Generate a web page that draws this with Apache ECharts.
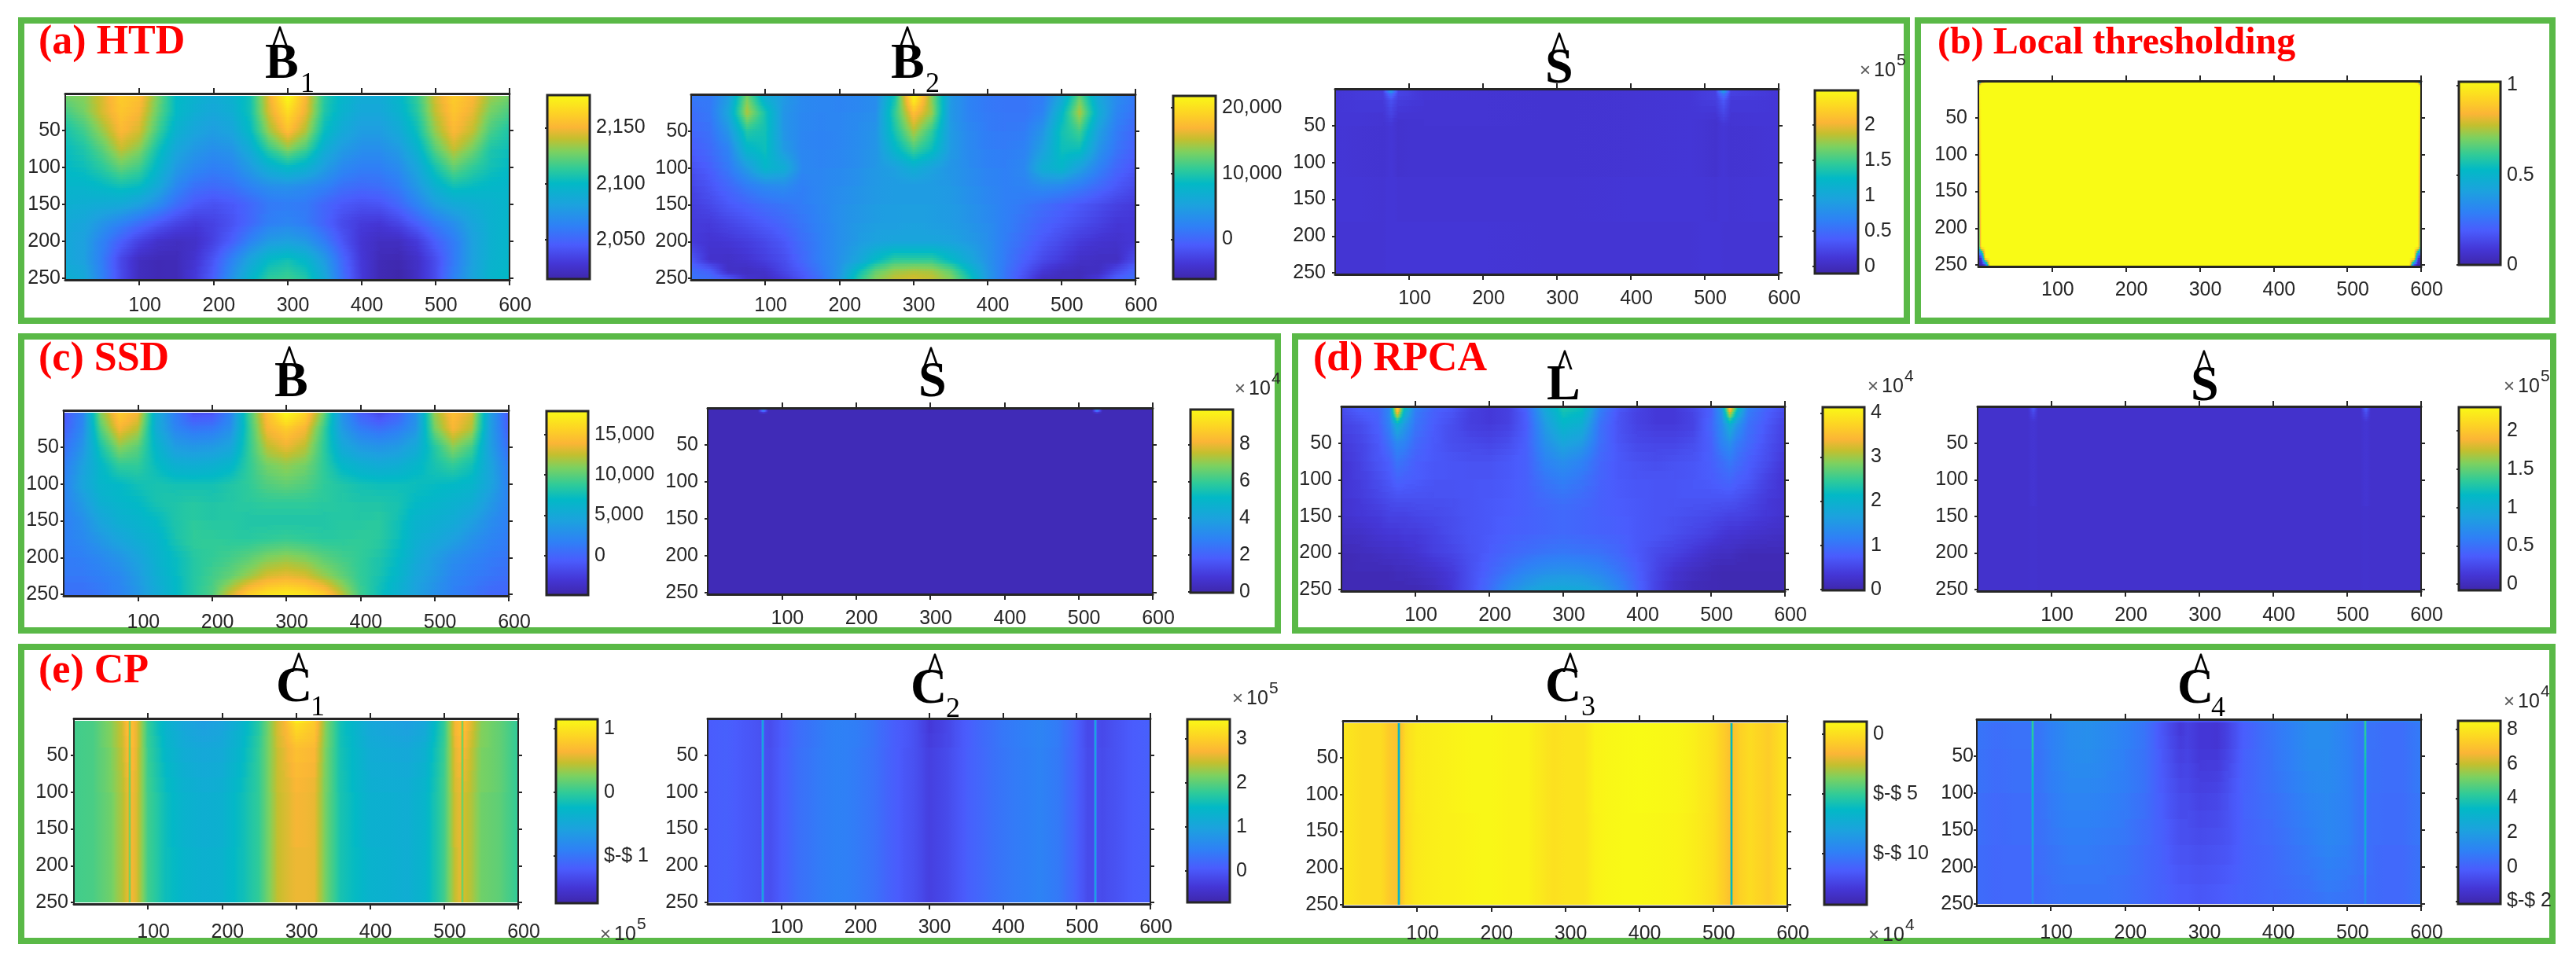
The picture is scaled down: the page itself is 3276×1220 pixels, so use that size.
<!DOCTYPE html>
<html>
<head>
<meta charset="utf-8">
<title>Background and target components</title>
<script src="https://cdn.jsdelivr.net/npm/echarts@6/dist/echarts.min.js"></script>
<style>
  html, body { margin: 0; background: #fff; }
  #main { width: 3276px; height: 1220px; }
</style>
</head>
<body>
<div id="main"></div>
<script>
// tick values shared by all the image panels
const xTicks = [100, 200, 300, 400, 500, 600];
const yTicks = [50, 100, 150, 200, 250];

// node positions of the level tables, in image pixels
const xEvery25 = [0,25,50,75,100,125,150,175,200,225,250,275,300,325,350,375,400,425,450,475,500,525,550,575,600];
const yEvery25 = [3,25,50,75,100,125,150,175,200,225,252];
const yLowRes = [2,25,50,75,100,125,150,175,200,225,240,252];
const xStripes = [0,25,50,65,73,75,77,85,100,125,150,175,200,225,250,275,285,300,325,340,360,400,450,475,500,515,523,525,527,535,550,575,600];

const b1Levels = [
  [68,70,78,88,85,68,52,48,45,48,55,80,100,82,58,50,45,45,50,60,78,88,83,72,68],
  [62,68,78,86,82,66,52,46,43,46,55,78,92,80,57,48,43,43,48,58,76,86,80,68,63],
  [56,62,72,83,78,62,48,42,39,42,52,72,85,74,53,44,39,39,44,54,72,83,76,63,57],
  [53,57,65,76,70,55,43,37,34,36,45,60,70,62,46,38,34,34,38,48,65,76,68,57,54],
  [52,54,59,66,62,50,38,32,29,31,38,47,52,48,39,32,29,29,33,42,56,66,60,55,52],
  [50,50,52,55,53,44,32,25,23,25,30,34,35,33,30,25,23,24,28,37,48,55,53,51,50],
  [47,46,45,44,40,33,24,18,16,18,22,27,28,27,22,18,16,17,22,30,39,44,46,48,50],
  [44,42,36,30,24,18,13,10,12,16,22,29,31,28,21,14,10,9,13,20,28,34,42,48,50],
  [43,40,30,20,12,7,5,6,12,20,30,38,40,37,28,17,8,5,5,10,20,28,40,47,50],
  [44,40,28,13,5,3,3,8,17,30,42,52,55,50,38,22,9,3,2,6,15,27,40,48,50],
  [48,44,30,15,4,2,3,10,20,36,50,60,62,58,44,25,10,2,0,5,15,30,42,50,52]
];
const b2Levels = [
  [27,27,38,68,45,38,32,31,30,31,33,55,100,70,38,30,27,26,26,28,42,66,42,33,27],
  [24,27,42,74,56,36,32,31,31,32,34,60,85,72,37,30,27,26,26,30,50,74,46,31,25],
  [22,25,36,58,55,36,31,30,31,33,36,56,74,60,38,32,28,27,28,36,55,62,40,28,22],
  [19,23,30,50,54,38,31,30,31,33,36,50,62,54,38,32,29,28,30,40,54,54,36,26,20],
  [16,20,27,38,50,46,32,31,32,34,37,40,46,41,36,33,30,29,32,46,50,40,30,22,17],
  [13,17,22,28,32,33,29,31,33,35,37,38,38,38,37,34,31,29,30,33,32,28,23,18,14],
  [11,14,18,21,24,26,28,31,34,36,38,39,39,39,38,35,32,29,27,24,21,18,15,12,10],
  [10,10,13,16,19,22,26,30,34,37,39,39,40,39,38,36,33,29,25,21,18,15,12,9,9],
  [10,8,9,11,14,18,24,29,34,38,41,42,42,42,41,38,34,28,23,18,14,10,8,7,9],
  [18,7,6,8,11,15,22,29,35,42,52,60,60,60,52,44,35,27,20,14,10,6,5,5,15],
  [24,20,6,5,7,13,19,27,36,53,66,72,74,73,66,52,37,26,17,9,5,4,5,14,22],
  [26,24,19,8,5,10,17,25,37,58,70,76,78,76,70,57,38,26,15,5,4,4,10,20,25]
];
const sAXNodes = [0,65,75,85,120,280,320,480,515,525,535,600];
const sAYNodes = [0,5,15,50,120,180,252];
const sALevels = [
  [9,10,60,12,9,8,8,9,11,60,12,9],
  [9,11,28,13,9,8,8,9,12,30,12,9],
  [9,10,16,11,9,8,8,9,11,18,10,9],
  [9,8,9,7,8,8,8,9,7,9,8,9],
  [9,8,9,8,8,8,8,9,8,9,8,9],
  [9,9,9,9,9,9,9,9,9,9,9,9],
  [8,8,9,9,9,8,8,8,9,8,8,8]
];
const thrXNodes = [0,4,10,16,584,590,596,600];
const thrYNodes = [0,3,8,225,240,252];
const thrLevels = [
  [0,60,100,100,100,100,60,0],
  [40,100,100,100,100,100,100,40],
  [100,100,100,100,100,100,100,100],
  [50,100,100,100,100,100,100,50],
  [0,10,100,100,100,100,10,0],
  [0,0,5,100,100,5,0,0]
];
const bLevels = [
  [17,30,70,88,82,45,28,16,17,30,62,85,100,90,68,35,20,14,20,34,72,85,78,40,18],
  [20,32,64,82,75,45,31,26,27,34,60,82,88,82,62,38,28,24,28,36,68,82,74,40,20],
  [24,36,56,70,65,50,39,37,38,42,60,75,80,75,60,44,38,36,38,44,58,70,62,40,24],
  [28,40,51,60,60,53,47,46,47,50,60,68,71,68,60,51,47,45,46,50,56,60,55,42,28],
  [30,42,50,52,55,56,55,55,55,57,60,64,66,64,60,57,55,54,54,54,53,52,50,42,30],
  [30,38,47,50,52,56,57,58,57,58,59,60,60,60,59,58,57,57,56,52,50,48,46,38,30],
  [29,34,42,47,49,52,57,59,58,58,57,57,57,57,57,58,58,59,55,49,47,45,40,34,29],
  [29,32,37,42,46,49,56,60,60,59,59,60,61,60,59,59,60,59,54,47,44,40,35,31,28],
  [28,29,32,36,41,48,53,58,60,62,65,69,71,69,65,62,60,57,52,45,39,34,31,28,26],
  [27,27,29,32,38,46,52,58,62,66,72,78,80,78,72,66,60,56,50,42,37,31,28,26,24],
  [24,24,26,30,36,44,51,58,64,78,90,95,97,95,90,76,62,54,47,40,34,29,26,22,21]
];
const sCXNodes = [0,68,75,82,518,525,532,600];
const sCYNodes = [0,3,7,252];
const sCLevels = [
  [3,3,35,3,3,35,3,3],
  [3,3,32,3,3,32,3,3],
  [3,3,3,3,3,3,3,3],
  [3,3,3,3,3,3,3,3]
];
const lXNodes = [0,25,50,65,75,85,100,125,150,175,200,225,250,275,300,325,350,375,400,425,450,475,500,515,525,535,550,575,600];
const lYNodes = [0,8,25,50,75,100,125,150,175,200,225,252];
const lLevels = [
  [15,20,22,30,95,55,30,22,18,12,10,12,22,45,58,55,30,18,13,10,10,14,20,40,95,60,30,22,15],
  [14,19,21,32,85,48,28,20,17,11,9,11,20,42,55,52,28,17,12,9,9,13,20,36,80,50,28,20,14],
  [12,15,20,30,46,38,26,19,15,11,10,12,19,38,50,46,25,16,12,10,10,12,22,33,46,36,25,18,12],
  [10,13,18,25,32,30,23,18,15,14,13,15,20,34,42,38,24,17,14,13,13,15,20,30,34,28,23,16,11],
  [8,12,17,20,26,24,20,18,17,16,16,18,20,30,34,30,22,18,16,15,16,17,20,24,27,24,20,15,9],
  [8,11,15,18,21,20,19,17,17,17,17,18,20,26,29,26,21,18,17,17,17,18,19,21,22,20,18,12,8],
  [8,10,13,15,16,16,16,16,16,17,18,19,20,23,25,23,20,19,18,17,17,17,17,17,17,16,14,10,8],
  [7,9,10,12,12,12,13,14,15,17,18,19,20,21,22,21,20,19,18,17,16,15,14,13,12,12,11,9,7],
  [5,6,8,9,9,10,10,12,15,17,18,20,21,22,23,22,21,20,18,17,15,13,11,9,8,8,7,6,5],
  [3,4,5,6,6,7,8,11,13,16,19,22,24,26,27,26,25,22,18,14,12,9,6,5,5,4,3,3,3],
  [2,3,3,3,4,4,5,7,10,16,21,26,31,34,35,34,31,26,20,13,8,5,3,2,2,2,2,2,2],
  [2,2,2,2,2,2,2,4,9,16,24,34,40,44,45,44,40,32,22,12,6,3,2,2,2,2,2,2,2]
];
const sDXNodes = [0,68,75,82,518,525,532,600];
const sDYNodes = [0,5,20,252];
const sDLevels = [
  [7,7,22,7,7,26,7,7],
  [7,7,16,7,7,18,7,7],
  [7,7,9,7,7,9,7,7],
  [7,7,7,7,7,7,7,7]
];
const c1YNodes = [3,6,40,100,250];
const c1Levels = [
  [62,63,70,78,86,64,85,80,60,48,42,38,40,48,58,78,82,100,88,70,55,42,38,42,60,82,85,64,85,80,70,66,60],
  [62,63,70,77,85,64,85,80,60,48,42,39,41,48,58,78,82,93,87,70,55,43,39,43,60,82,85,64,85,80,70,66,60],
  [62,63,69,76,83,64,84,79,61,50,45,43,44,50,60,77,80,85,83,69,55,45,43,47,61,80,83,64,82,77,69,66,60],
  [62,63,68,74,80,64,82,78,62,53,48,46,47,53,60,76,78,82,80,68,56,47,46,50,62,78,80,64,78,75,68,66,60],
  [62,63,67,74,80,64,82,78,62,54,50,48,49,54,60,76,78,80,80,68,56,49,46,50,62,76,80,64,77,74,67,65,60]
];
const c2YNodes = [0,40,250];
const c2Levels = [
  [19,20,18,17,16,50,16,15,19,24,27,30,29,26,20,17,15,9,13,17,21,27,31,28,20,14,14,50,15,14,16,19,20],
  [19,20,18,17,16,50,16,15,19,24,27,29,28,25,20,17,15,11,14,17,21,26,30,27,20,14,14,50,15,14,16,19,20],
  [19,20,18,17,16,48,16,16,20,25,28,30,28,25,20,16,15,12,15,18,21,26,30,27,20,15,14,48,15,15,16,19,20]
];
const c3YNodes = [3,125,250];
const c3Levels = [
  [95,92,92,87,85,35,85,92,96,97,98,99,99,98,98,94,93,94,94,98,99,100,99,97,93,88,85,38,85,89,92,88,95],
  [95,92,92,87,85,35,85,92,96,97,98,99,99,98,98,94,93,94,94,98,99,100,99,97,93,88,85,38,85,89,92,88,95],
  [95,92,92,87,85,36,85,92,95,97,97,98,99,98,98,94,93,94,94,97,99,99,98,96,93,88,85,38,85,89,92,88,95]
];
const c4YNodes = [0,4,40,100,170,250];
const c4Levels = [
  [42,42,42,42,42,72,42,42,42,42,42,42,42,42,42,42,42,42,42,42,42,42,42,42,42,42,42,72,42,42,42,42,42],
  [26,24,25,25,25,72,25,26,29,33,34,32,30,26,17,9,11,9,8,12,19,26,33,33,29,26,25,72,25,25,24,24,28],
  [26,24,25,25,25,68,25,26,29,33,34,32,29,26,18,11,12,9,9,13,20,26,33,33,29,26,25,68,25,25,24,24,28],
  [25,23,24,24,24,58,24,25,28,31,31,30,28,25,19,14,14,12,13,16,21,25,31,32,30,26,25,58,25,24,24,24,27],
  [24,22,23,23,23,48,24,24,26,28,28,27,26,23,20,16,16,15,16,17,20,23,28,31,29,26,25,48,25,24,23,23,26],
  [23,22,22,22,22,36,22,23,24,25,25,25,24,22,21,19,19,18,19,20,21,22,24,26,25,24,23,34,23,23,22,22,25]
];

// colorbar tick values and their printed labels
const b1BarTicks = [2050, 2100, 2150], b1BarLabels = ['2,050', '2,100', '2,150'];
const b2BarTicks = [0, 10000, 20000], b2BarLabels = ['0', '10,000', '20,000'];
const sABarTicks = [0, 0.5, 1, 1.5, 2], sABarLabels = ['0', '0.5', '1', '1.5', '2'];
const thrBarTicks = [0, 0.5, 1], thrBarLabels = ['0', '0.5', '1'];
const bBarTicks = [0, 5000, 10000, 15000], bBarLabels = ['0', '5,000', '10,000', '15,000'];
const sCBarTicks = [0, 2, 4, 6, 8], sCBarLabels = ['0', '2', '4', '6', '8'];
const lBarTicks = [0, 1, 2, 3, 4], lBarLabels = ['0', '1', '2', '3', '4'];
const sDBarTicks = [0, 0.5, 1, 1.5, 2], sDBarLabels = ['0', '0.5', '1', '1.5', '2'];
const c1BarTicks = [-1, 0, 1], c1BarLabels = ['$-$ 1', '0', '1'];
const c2BarTicks = [0, 1, 2, 3], c2BarLabels = ['0', '1', '2', '3'];
const c3BarTicks = [-10, -5, 0], c3BarLabels = ['$-$ 10', '$-$ 5', '0'];
const c4BarTicks = [-2, 0, 2, 4, 6, 8], c4BarLabels = ['$-$ 2', '0', '2', '4', '6', '8'];

// colorbar stops, taken from the bars in the figure
const barStops = [
  [0, '#3E26A8'], [0.09, '#4436D6'], [0.19, '#4A5CFD'], [0.29, '#2F80F6'],
  [0.405, '#1CA2DE'], [0.52, '#02B9C6'], [0.6, '#30CB98'], [0.69, '#7CD160'],
  [0.76, '#C4BF2E'], [0.82, '#FBB536'], [0.9, '#FDD424'], [1, '#F9FB15']
];

// plot and bar are [left, top, right, bottom] on the page
const panels = [
  { levels: b1Levels, xs: xEvery25, ys: yEvery25, plot: [83,119,648,356], bar: [696,121,750,355], range: [2015,2179], ticks: b1BarTicks, labels: b1BarLabels, xGap: 21, yGap: 6 },
  { levels: b2Levels, xs: xEvery25, ys: yLowRes, plot: [879,120,1444,356], bar: [1492,122,1546,355], range: [-6070,21800], ticks: b2BarTicks, labels: b2BarLabels, xGap: 21, yGap: 4 },
  { levels: sALevels, xs: sAXNodes, ys: sAYNodes, plot: [1698,113,2262,349], bar: [2308,115,2363,348], range: [-0.1,2.49], ticks: sABarTicks, labels: sABarLabels, xGap: 19, yGap: 12 },
  { levels: thrLevels, xs: thrXNodes, ys: thrYNodes, plot: [2516,103,3079,339], bar: [3127,104,3180,337], range: [0,1.02], ticks: thrBarTicks, labels: thrBarLabels, xGap: 18, yGap: 14 },
  { levels: bLevels, xs: xEvery25, ys: yEvery25, plot: [81,522,647,758], bar: [695,523,748,757], range: [-4870,17900], ticks: bBarTicks, labels: bBarLabels, xGap: 22, yGap: 6 },
  { levels: sCLevels, xs: sCXNodes, ys: sCYNodes, plot: [900,519,1466,756], bar: [1514,521,1568,754], range: [-0.05,9.9], ticks: sCBarTicks, labels: sCBarLabels, xGap: 19, yGap: 12 },
  { levels: lLevels, xs: lXNodes, ys: lYNodes, plot: [1706,517,2270,752], bar: [2318,518,2371,751], range: [-0.02,4.13], ticks: lBarTicks, labels: lBarLabels, xGap: 19, yGap: 12 },
  { levels: sDLevels, xs: sDXNodes, ys: sDYNodes, plot: [2515,517,3079,752], bar: [3127,518,3180,751], range: [-0.08,2.31], ticks: sDBarTicks, labels: sDBarLabels, xGap: 19, yGap: 12 },
  { levels: c1Levels, xs: xStripes, ys: c1YNodes, plot: [94,914,659,1150], bar: [707,915,760,1149], range: [-1.74,1.15], ticks: c1BarTicks, labels: c1BarLabels, xGap: 24, yGap: 7 },
  { levels: c2Levels, xs: xStripes, ys: c2YNodes, plot: [900,914,1463,1150], bar: [1510,915,1564,1148], range: [-0.72,3.45], ticks: c2BarTicks, labels: c2BarLabels, xGap: 18, yGap: 12 },
  { levels: c3Levels, xs: xStripes, ys: c3YNodes, plot: [1708,917,2273,1153], bar: [2320,918,2374,1151], range: [-14.3,1.05], ticks: c3BarTicks, labels: c3BarLabels, xGap: 23, yGap: 6 },
  { levels: c4Levels, xs: xStripes, ys: c4YNodes, plot: [2514,915,3079,1152], bar: [3126,917,3180,1150], range: [-2.16,8.5], ticks: c4BarTicks, labels: c4BarLabels, xGap: 23, yGap: 4 }
];

// the green boxes: [left, top, right, bottom] of the outer edge
const frames = [
  [23,22,2429,412], [2435,22,3250,412],
  [23,424,1629,806], [1643,424,3251,806],
  [23,819,3250,1201]
];
// red captions: text, x, baseline, size
const captions = [
  ['(a) HTD', 49, 70, 52], ['(b) Local thresholding', 2464, 70, 48],
  ['(c) SSD', 49, 473, 52], ['(d) RPCA', 1670, 473, 52], ['(e) CP', 49, 870, 52]
];
// panel titles: letter, x, baseline, hat centre, hat top, subscript, sub x, sub baseline
const titles = [
  ['B', 337, 102, 356, 35, '1', 382, 118],
  ['B', 1133, 102, 1154, 35, '2', 1177, 118],
  ['S', 1965, 108, 1983, 43],
  ['B', 349, 507, 368, 442],
  ['S', 1168, 507, 1184, 443],
  ['L', 1967, 511, 1990, 447],
  ['S', 2786, 512, 2803, 447],
  ['C', 351, 895, 380, 832, '1', 395, 911],
  ['C', 1158, 897, 1189, 833, '2', 1203, 913],
  ['C', 1965, 895, 1997, 832, '3', 2011, 911],
  ['C', 2769, 897, 2799, 833, '4', 2812, 912]
];
// colorbar multipliers: power, x of the cross, baseline
const multipliers = [
  ['5', 2365, 98], ['4', 1570, 503], ['4', 2375, 500], ['5', 3184, 500],
  ['5', 763, 1197], ['5', 1567, 897], ['4', 2376, 1198], ['4', 3184, 901]
];

const inkColor = '#262626';
const sansFont = '"Liberation Sans", Arial, sans-serif';
const serifFont = '"Liberation Serif", "Times New Roman", serif';

// 0..100 level -> colour table
const colorTable = [];
for (let k = 0; k <= 200; k++) {
  const t = k / 200;
  let s = 0;
  while (s < barStops.length - 2 && t > barStops[s + 1][0]) s++;
  const f = (t - barStops[s][0]) / (barStops[s + 1][0] - barStops[s][0]);
  colorTable.push(echarts.color.lerp(f, [barStops[s][1], barStops[s + 1][1]]));
}
function levelColor(level) {
  return colorTable[Math.max(0, Math.min(200, Math.round(level * 2)))];
}

// each table node paints the quad to its right and below, shaded between
// the four corner levels like MATLAB's "shading interp"
function renderQuad(p) {
  const nx = p.xs.length;
  const ny = p.ys.length;
  return function (params, api) {
    const j = Math.floor(params.dataIndex / nx);
    const i = params.dataIndex % nx;
    if (i === nx - 1 || j === ny - 1) return null;
    const tl = p.levels[j][i], tr = p.levels[j][i + 1];
    const bl = p.levels[j + 1][i], br = p.levels[j + 1][i + 1];
    const a = api.coord([p.xs[i], p.ys[j]]);
    const b = api.coord([p.xs[i + 1], p.ys[j + 1]]);
    const x0 = Math.round(a[0]), x1 = Math.round(b[0]);
    const h = b[1] - a[1];
    const drop = Math.max(Math.abs(tl - bl), Math.abs(tr - br));
    const strips = Math.max(1, Math.min(Math.ceil(h / 3), Math.ceil(drop)));
    const children = [];
    for (let s = 0; s < strips; s++) {
      const y0 = Math.round(a[1] + (h * s) / strips);
      const y1 = Math.round(a[1] + (h * (s + 1)) / strips);
      if (y1 <= y0) continue;
      const f = (s + 0.5) / strips;
      const left = tl + (bl - tl) * f;
      const right = tr + (br - tr) * f;
      const steps = Math.min(10, 1 + Math.ceil(Math.abs(right - left) / 3));
      const stops = [];
      for (let q = 0; q <= steps; q++) {
        stops.push({ offset: q / steps, color: levelColor(left + ((right - left) * q) / steps) });
      }
      children.push({
        type: 'rect',
        shape: { x: x0, y: y0, width: x1 - x0, height: y1 - y0 },
        style: { fill: new echarts.graphic.LinearGradient(0, 0, 1, 0, stops) }
      });
    }
    return { type: 'group', children: children };
  };
}

function renderBar(params, api) {
  const a = api.coord([0, api.value(1)]);
  const b = api.coord([1, api.value(0)]);
  return {
    type: 'rect',
    shape: { x: a[0], y: a[1], width: b[0] - a[0], height: b[1] - a[1] },
    style: {
      fill: new echarts.graphic.LinearGradient(0, 1, 0, 0, barStops.map(function (s) {
        return { offset: s[0], color: s[1] };
      })),
      stroke: inkColor,
      lineWidth: 3
    }
  };
}

const grids = [], xAxes = [], yAxes = [], series = [];

function box(r) {
  return { left: r[0], top: r[1], width: r[2] - r[0], height: r[3] - r[1], show: false };
}
const wideLine = { show: true, onZero: false, lineStyle: { color: inkColor, width: 3 } };
const thinLine = { show: true, onZero: false, lineStyle: { color: inkColor, width: 2 } };
const tickStyle = { color: inkColor, width: 2 };

panels.forEach(function (p, n) {
  const plotGrid = grids.length;
  grids.push(box(p.plot));
  grids.push(box(p.bar));

  const baseX = xAxes.length;
  xAxes.push({
    gridIndex: plotGrid, type: 'value', min: 0, max: 600, position: 'bottom', z: 5,
    splitLine: { show: false }, axisLine: wideLine,
    axisTick: { length: 7, lineStyle: tickStyle, customValues: xTicks },
    axisLabel: {
      customValues: xTicks, margin: p.xGap, padding: [0, 0, 0, 14], hideOverlap: false,
      fontFamily: sansFont, fontSize: 25, color: inkColor
    }
  });
  xAxes.push({
    gridIndex: plotGrid, type: 'value', min: 0, max: 600, position: 'top', z: 5,
    splitLine: { show: false }, axisLine: wideLine,
    axisTick: { length: 7, lineStyle: tickStyle, customValues: xTicks },
    axisLabel: { show: false }
  });
  xAxes.push({ gridIndex: plotGrid + 1, type: 'value', min: 0, max: 1, show: false });

  const baseY = yAxes.length;
  yAxes.push({
    gridIndex: plotGrid, type: 'value', min: 0, max: 252, inverse: true, position: 'left', z: 5,
    splitLine: { show: false }, axisLine: thinLine,
    axisTick: { length: 4, lineStyle: tickStyle, customValues: yTicks },
    axisLabel: {
      customValues: yTicks, margin: p.yGap, padding: [6, 0, 0, 0], hideOverlap: false,
      fontFamily: sansFont, fontSize: 25, color: inkColor
    }
  });
  yAxes.push({
    gridIndex: plotGrid, type: 'value', min: 0, max: 252, inverse: true, position: 'right', z: 5,
    splitLine: { show: false }, axisLine: thinLine,
    axisTick: { length: 5, lineStyle: tickStyle, customValues: yTicks },
    axisLabel: { show: false }
  });
  yAxes.push({
    gridIndex: plotGrid + 1, type: 'value', min: p.range[0], max: p.range[1], position: 'right', z: 5,
    splitLine: { show: false }, axisLine: { show: false },
    axisTick: { inside: true, length: 3, lineStyle: tickStyle, customValues: p.ticks },
    axisLabel: {
      customValues: p.ticks, margin: 8, padding: [6, 0, 0, 0], hideOverlap: false,
      fontFamily: sansFont, fontSize: 25, color: inkColor,
      formatter: function (v) { return p.labels[p.ticks.indexOf(v)]; }
    }
  });

  const nodes = [];
  p.levels.forEach(function (row, j) {
    row.forEach(function (level, i) { nodes.push([p.xs[i], p.ys[j], level]); });
  });
  series.push({
    type: 'custom', xAxisIndex: baseX, yAxisIndex: baseY, silent: true,
    animation: false, progressive: 0, renderItem: renderQuad(p), data: nodes
  });
  series.push({
    type: 'custom', xAxisIndex: baseX + 2, yAxisIndex: baseY + 2, silent: true,
    animation: false, renderItem: renderBar, encode: { x: [], y: [0, 1] }, data: [p.range]
  });
});

function baselineText(text, x, base, size, font, fill, weight, align) {
  return {
    type: 'text', z: 20, silent: true,
    style: {
      text: text, x: x, y: base - size * 0.3, fill: fill,
      font: (weight || 'normal') + ' ' + size + 'px ' + font,
      align: align || 'left', verticalAlign: 'middle'
    }
  };
}

const graphics = [];
frames.forEach(function (f) {
  graphics.push({
    type: 'rect', z: -10, silent: true,
    shape: { x: f[0] + 4, y: f[1] + 4, width: f[2] - f[0] - 8, height: f[3] - f[1] - 8 },
    style: { fill: 'none', stroke: '#5AB947', lineWidth: 8 }
  });
});
captions.forEach(function (c) {
  graphics.push(baselineText(c[0], c[1], c[2], c[3], serifFont, '#FF0000', 'bold'));
});
titles.forEach(function (t) {
  graphics.push(baselineText(t[0], t[1], t[2], 64, serifFont, '#000', 'bold'));
  // the hat in the figure is stretched upright
  const hatY = t[4] + 19;
  graphics.push({
    type: 'text', z: 20, silent: true, originX: t[3], originY: hatY, scaleY: 1.25,
    style: {
      text: '^', x: t[3], y: hatY, fill: '#000', font: 'bold 42px ' + serifFont,
      align: 'center', verticalAlign: 'middle'
    }
  });
  if (t[5]) graphics.push(baselineText(t[5], t[6], t[7], 36, serifFont, '#000'));
});
multipliers.forEach(function (m) {
  graphics.push(baselineText('\u00d7', m[1], m[2], 24, sansFont, '#555'));
  graphics.push(baselineText('10', m[1] + 18, m[2], 25, sansFont, inkColor));
  graphics.push(baselineText(m[0], m[1] + 47, m[2] - 14, 21, sansFont, inkColor));
});

const chart = echarts.init(document.getElementById('main'));
chart.setOption({
  backgroundColor: '#fff',
  animation: false,
  grid: grids,
  xAxis: xAxes,
  yAxis: yAxes,
  series: series,
  graphic: graphics
});
</script>
</body>
</html>
